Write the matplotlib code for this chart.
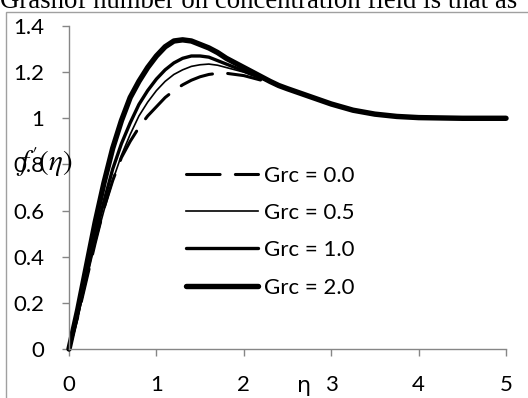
import numpy as np
import matplotlib
matplotlib.use("Agg")
from matplotlib import pyplot as plt
from matplotlib.patches import Rectangle

# eta grid and f'(eta)
eta = [0, 0.1, 0.2, 0.3, 0.4, 0.5, 0.6, 0.7, 0.8, 0.9, 1.0, 1.1, 1.2, 1.3, 1.4,
       1.5, 1.6, 1.7, 1.8, 1.9, 2.0, 2.1, 2.2, 2.3, 2.4, 2.5, 2.75, 3.0, 3.25,
       3.5, 3.75, 4.0, 4.5, 5.0]

tail = [1.142, 1.128, 1.095, 1.062, 1.035, 1.018, 1.008, 1.003, 1.0, 1.0]

grc_00 = [0, 0.14, 0.30, 0.46, 0.61, 0.73, 0.83, 0.90, 0.96, 1.01, 1.05, 1.09,
          1.12, 1.145, 1.165, 1.18, 1.19, 1.195, 1.195, 1.19, 1.185, 1.175,
          1.165, 1.155] + tail
grc_05 = [0, 0.14, 0.30, 0.46, 0.60, 0.73, 0.84, 0.93, 1.01, 1.07, 1.12, 1.16,
          1.19, 1.21, 1.225, 1.232, 1.235, 1.23, 1.22, 1.21, 1.20, 1.185,
          1.172, 1.158] + tail
grc_10 = [0, 0.15, 0.32, 0.49, 0.64, 0.78, 0.89, 0.98, 1.06, 1.12, 1.17, 1.21,
          1.24, 1.26, 1.27, 1.27, 1.265, 1.25, 1.235, 1.22, 1.205, 1.19,
          1.175, 1.16] + tail
grc_20 = [0, 0.17, 0.36, 0.55, 0.72, 0.87, 0.99, 1.09, 1.16, 1.22, 1.27, 1.31,
          1.335, 1.34, 1.335, 1.32, 1.305, 1.285, 1.26, 1.24, 1.22, 1.20,
          1.18, 1.16] + tail

labels = ["Grc = 0.0", "Grc = 0.5", "Grc = 1.0", "Grc = 2.0"]

W, H = 528, 398
fig = plt.figure(figsize=(W / 100, H / 100), dpi=100)
ax = fig.add_axes([69 / W, 1 - 349 / H, (506 - 69) / W, (349 - 26) / H])

font = "Lato"
grey = "#868686"
plt.rcParams["mathtext.fontset"] = "stix"

ax.plot(eta, grc_00, color="k", lw=2.2, dashes=(11, 5), dash_capstyle="round",
        label=labels[0], clip_on=False)
ax.plot(eta, grc_05, color="k", lw=1.2, label=labels[1], clip_on=False)
ax.plot(eta, grc_10, color="k", lw=2.4, label=labels[2], clip_on=False,
        solid_capstyle="round")
ax.plot(eta, grc_20, color="k", lw=3.9, label=labels[3], clip_on=False,
        solid_capstyle="round")

ax.set_xlim(0, 5)
ax.set_ylim(0, 1.4)
ax.set_xticks([0, 1, 2, 3, 4, 5])
ax.set_xticklabels(["0", "1", "2", "3", "4", "5"])
ax.set_yticks([0, 0.2, 0.4, 0.6, 0.8, 1.0, 1.2, 1.4])
ax.set_yticklabels(["0", "0.2", "0.4", "0.6", "0.8", "1", "1.2", "1.4"])

for s in ["top", "right"]:
    ax.spines[s].set_visible(False)
for s in ["left", "bottom"]:
    ax.spines[s].set_color(grey)
    ax.spines[s].set_linewidth(1)
ax.tick_params(direction="out", length=5, width=1, color=grey,
               labelsize=16, labelcolor="k")
ax.tick_params(axis="y", pad=13)
ax.tick_params(axis="x", pad=14)
for t in ax.get_xticklabels() + ax.get_yticklabels():
    t.set_fontfamily(font)

leg = ax.legend(loc="center left", bbox_to_anchor=(186 / W, 1 - 231.5 / H),
                bbox_transform=fig.transFigure, frameon=False,
                handlelength=3.25, handletextpad=0.25, labelspacing=0.78,
                borderpad=0, borderaxespad=0, prop={"family": font, "size": 16})

# axis labels placed where they sit in the original
fig.text(44 / W, 1 - 162 / H, r"$\mathbf{\mathit{f'}}(\mathit{\eta})$", fontsize=21,
         ha="center", va="center")
fig.text(304 / W, 1 - 386 / H, "\u03b7", fontsize=16, family="DejaVu Sans",
         ha="center", va="center")

# surrounding frame and the cut-off line of text above
fig.patches.append(Rectangle((6 / W, -0.1), 1.2, 1 - 12 / H + 0.1,
                             transform=fig.transFigure, fill=False,
                             edgecolor="#a0a0a0", lw=1))
fig.text(0, 1 - 8 / H, "Grashof number on concentration field is that as",
         fontsize=19.3, family="Liberation Serif", ha="left", va="baseline")

fig.savefig("out.png", dpi=100)
